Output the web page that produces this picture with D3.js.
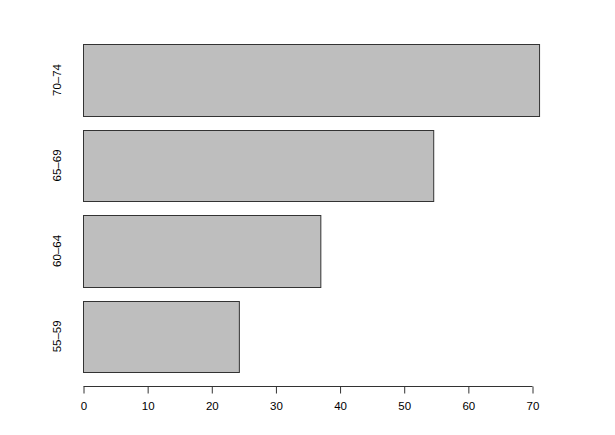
<!DOCTYPE html>
<html>
<head>
<meta charset="utf-8">
<script src="https://cdn.jsdelivr.net/npm/d3@7"></script>
<style>
  html, body { margin: 0; padding: 0; background: #fff; }
  svg { display: block; }
  text { font-family: "Liberation Sans", Arial, Helvetica, sans-serif; fill: #000; }
</style>
</head>
<body>
<svg id="chart" width="615" height="435"></svg>
<script>
const categories = ["55–59", "60–64", "65–69", "70–74"];
const values = [24.3, 37.0, 54.6, 71.1];
const tickValues = [0, 10, 20, 30, 40, 50, 60, 70];

const svg = d3.select("#chart");

// x scale: value -> px
const x = d3.scaleLinear().domain([0, 70]).range([83, 532]);
// y scale in R barplot user units (space = 0.2, width = 1)
const y = d3.scaleLinear().domain([0, 4.8]).range([386.2, 44.4]);

const bars = categories.map((c, i) => ({ c, v: values[i], y0: 0.2 + 1.2 * i, y1: 1.2 + 1.2 * i }));

svg.append("g").selectAll("rect")
  .data(bars)
  .join("rect")
  .attr("x", x(0) + 0.5)
  .attr("y", d => Math.round(y(d.y1)) + 0.5)
  .attr("width", d => x(d.v) - x(0))
  .attr("height", d => Math.round(y(d.y0)) - Math.round(y(d.y1)))
  .attr("fill", "#bebebe")
  .attr("stroke", "#333")
  .attr("stroke-width", 1);

// category labels (rotated)
svg.append("g").selectAll("text")
  .data(bars)
  .join("text")
  .attr("transform", d => `translate(60.5, ${y((d.y0 + d.y1) / 2)}) rotate(-90)`)
  .attr("text-anchor", "middle")
  .attr("font-size", "11.5px")
  .text(d => d.c);

// x axis, R style
const axis = d3.axisBottom(x).tickValues(tickValues).tickSize(7).tickPadding(8).tickFormat(d3.format("d"));
const g = svg.append("g").attr("transform", "translate(0.5, 386.5)").call(axis);
g.select(".domain").attr("stroke", "#333").attr("d", `M${x(0)},0H${x(70)}`);
g.selectAll(".tick line").attr("stroke", "#333");
g.selectAll(".tick text").attr("font-size", "11.5px").attr("font-family", "Liberation Sans, Arial, sans-serif").attr("fill", "#000");
</script>
</body>
</html>
